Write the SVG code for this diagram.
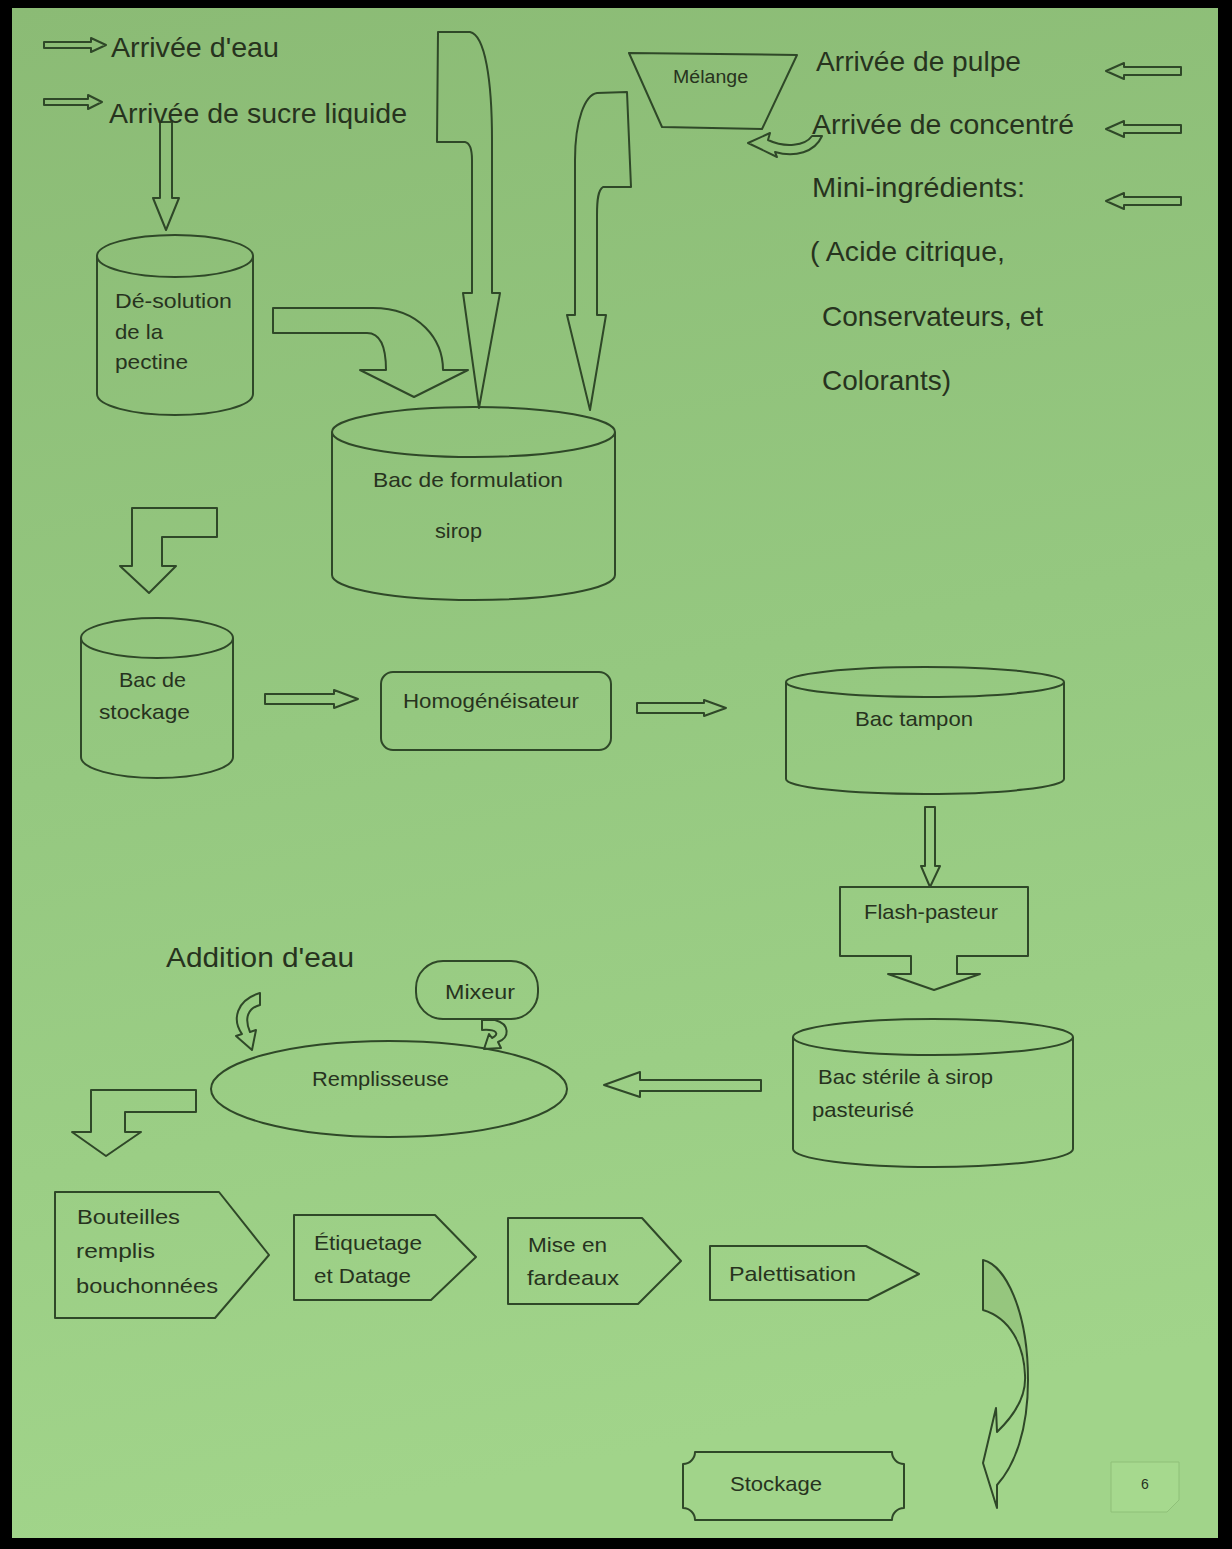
<svg xmlns="http://www.w3.org/2000/svg" width="1232" height="1549" viewBox="0 0 1232 1549">
<defs>
<linearGradient id="bg" x1="0" y1="0" x2="0.15" y2="1">
<stop offset="0" stop-color="#8bbb75"/>
<stop offset="0.5" stop-color="#95c880"/>
<stop offset="1" stop-color="#a1d48a"/>
</linearGradient>
<style>
.s{fill:none;stroke:#2f4828;stroke-width:2;stroke-linejoin:round}
.t{font-family:"Liberation Sans",Arial,sans-serif;fill:#27331e}
.lg{font-size:28px}
.md{font-size:21px}
.sm{font-size:18px}
</style>
</defs>
<rect x="0" y="0" width="1232" height="1549" fill="#000"/>
<rect x="12" y="8" width="1206" height="1530" fill="url(#bg)"/>

<g id="connectors">
<path class="s" d="M44,42 L91,42 L91,38 L106,45 L91,52 L91,48 L44,48 Z"/>
<path class="s" d="M44,99 L88,99 L88,95 L102,102 L88,109 L88,105 L44,105 Z"/>
<path class="s" d="M1181,67 L1124,67 L1124,63 L1106,71 L1124,79 L1124,75 L1181,75 Z"/>
<path class="s" d="M1181,125 L1124,125 L1124,121 L1106,129 L1124,137 L1124,133 L1181,133 Z"/>
<path class="s" d="M1181,197 L1124,197 L1124,193 L1106,201 L1124,209 L1124,205 L1181,205 Z"/>
<path class="s" d="M160,122 L172,122 L172,198 L179,198 L166,230 L153,198 L160,198 Z"/>
<path class="s" d="M438,32 L470,32 C485,35 492,80 492,140 L492,293 L500,293 L479,408 L463,293 L472,293 L472,160 C472,150 470,143 465,142 L437,142 Z"/>
<path class="s" d="M597,93 L627,92 L631,187 L603,187 C598,190 597,200 597,215 L597,315 L606,315 L590,410 L567,315 L575,315 L575,160 C575,120 585,95 597,93 Z"/>
<path class="s" d="M273,308 L373,308 C420,308 443,340 443,370 L468,370 L414,397 L360,370 L386,370 C386,345 380,333 367,333 L273,333 Z"/>
<path class="s" d="M748,143 L770,133 L768,140 C785,148 805,146 812,136 L822,136 C815,152 795,158 775,152 L777,157 Z"/>
<path class="s" d="M132,508 L217,508 L217,537 L162,537 L162,566 L176,566 L149,593 L120,566 L132,566 Z"/>
<path class="s" d="M265,694 L334,694 L334,690 L358,699 L334,708 L334,704 L265,704 Z"/>
<path class="s" d="M637,703 L704,703 L704,700 L726,708 L704,716 L704,713 L637,713 Z"/>
<path class="s" d="M925,807 L935,807 L935,866 L940,866 L930,887 L921,866 L925,866 Z"/>
<path class="s" d="M761,1080 L640,1080 L640,1072 L604,1085 L640,1097 L640,1091 L761,1091 Z"/>
<path class="s" d="M260,993 L260,1005 C248,1008 244,1018 250,1032 L256,1030 L252,1050 L236,1036 L242,1034 C232,1020 236,1000 260,993 Z"/>
<path class="s" d="M482,1020 L495,1020 C510,1024 510,1038 498,1042 L501,1048 L484,1049 L489,1034 L492,1038 C500,1034 497,1029 482,1030 Z"/>
<path class="s" d="M91,1090 L196,1090 L196,1112 L125,1112 L125,1132 L141,1132 L106,1156 L72,1132 L91,1132 Z"/>
<path d="M983,1260 C1005,1265 1026,1310 1027,1372 C1022,1340 1008,1318 983,1310 Z" fill="#86b46f" opacity="0.4"/>
<path class="s" d="M983,1260 C1005,1265 1028,1310 1028,1380 C1028,1430 1015,1465 997,1485 L997,1508 L983,1463 L996,1408 L997,1432 C1020,1410 1026,1390 1025,1375 C1024,1345 1010,1318 983,1310 Z"/>
</g>

<g id="arrivee-eau"><text class="t lg" x="111" y="57" textLength="168" lengthAdjust="spacingAndGlyphs">Arrivée d'eau</text></g>
<g id="arrivee-sucre"><text class="t lg" x="109" y="123" textLength="298" lengthAdjust="spacingAndGlyphs">Arrivée de sucre liquide</text></g>
<g id="arrivee-pulpe"><text class="t lg" x="816" y="71" textLength="205" lengthAdjust="spacingAndGlyphs">Arrivée de pulpe</text></g>
<g id="arrivee-concentre"><text class="t lg" x="812" y="134" textLength="262" lengthAdjust="spacingAndGlyphs">Arrivée de concentré</text></g>
<g id="mini-ingredients">
<text class="t lg" x="812" y="197" textLength="213" lengthAdjust="spacingAndGlyphs">Mini-ingrédients:</text>
<text class="t lg" x="810" y="261" textLength="195" lengthAdjust="spacingAndGlyphs">( Acide citrique,</text>
<text class="t lg" x="822" y="326" textLength="221" lengthAdjust="spacingAndGlyphs">Conservateurs, et</text>
<text class="t lg" x="822" y="390" textLength="129" lengthAdjust="spacingAndGlyphs">Colorants)</text>
</g>

<g id="melange">
<path class="s" d="M629,53 L797,55 L762,129 L662,127 Z"/>
<text class="t sm" x="673" y="83" textLength="75" lengthAdjust="spacingAndGlyphs">Mélange</text>
</g>

<g id="desolution">
<path class="s" d="M97,256 L97,394 A78,21 0 0 0 253,394 L253,256"/>
<ellipse class="s" cx="175" cy="256" rx="78" ry="21"/>
<text class="t md" x="115" y="308" textLength="117" lengthAdjust="spacingAndGlyphs">Dé-solution</text>
<text class="t md" x="115" y="339" textLength="48" lengthAdjust="spacingAndGlyphs">de la</text>
<text class="t md" x="115" y="369" textLength="73" lengthAdjust="spacingAndGlyphs">pectine</text>
</g>

<g id="formulation">
<path class="s" d="M332,432 L332,575 A141.5,25 0 0 0 615,575 L615,432"/>
<ellipse class="s" cx="473.5" cy="432" rx="141.5" ry="25"/>
<text class="t md" x="373" y="487" textLength="190" lengthAdjust="spacingAndGlyphs">Bac de formulation</text>
<text class="t md" x="435" y="538" textLength="47" lengthAdjust="spacingAndGlyphs">sirop</text>
</g>

<g id="stockage-bac">
<path class="s" d="M81,638 L81,757 A76,21 0 0 0 233,757 L233,638"/>
<ellipse class="s" cx="157" cy="638" rx="76" ry="20"/>
<text class="t md" x="119" y="687" textLength="67" lengthAdjust="spacingAndGlyphs">Bac de</text>
<text class="t md" x="99" y="719" textLength="91" lengthAdjust="spacingAndGlyphs">stockage</text>
</g>

<g id="homogeneisateur">
<rect class="s" x="381" y="672" width="230" height="78" rx="12"/>
<text class="t md" x="403" y="708" textLength="176" lengthAdjust="spacingAndGlyphs">Homogénéisateur</text>
</g>

<g id="tampon">
<path class="s" d="M786,682 L786,779 A139,15 0 0 0 1064,779 L1064,682"/>
<ellipse class="s" cx="925" cy="682" rx="139" ry="15"/>
<text class="t md" x="855" y="726" textLength="118" lengthAdjust="spacingAndGlyphs">Bac tampon</text>
</g>

<g id="flash-pasteur">
<path class="s" d="M840,887 L1028,887 L1028,956 L957,956 L957,974 L980,974 L934,990 L888,974 L911,974 L911,956 L840,956 Z"/>
<text class="t md" x="864" y="919" textLength="134" lengthAdjust="spacingAndGlyphs">Flash-pasteur</text>
</g>

<g id="sterile">
<path class="s" d="M793,1037 L793,1149 A140,18 0 0 0 1073,1149 L1073,1037"/>
<ellipse class="s" cx="933" cy="1037" rx="140" ry="18"/>
<text class="t md" x="818" y="1084" textLength="175" lengthAdjust="spacingAndGlyphs">Bac stérile à sirop</text>
<text class="t md" x="812" y="1117" textLength="102" lengthAdjust="spacingAndGlyphs">pasteurisé</text>
</g>

<g id="addition-eau"><text class="t lg" x="166" y="967" textLength="188" lengthAdjust="spacingAndGlyphs">Addition d'eau</text></g>

<g id="mixeur">
<rect class="s" x="416" y="961" width="122" height="58" rx="27"/>
<text class="t md" x="445" y="999" textLength="70" lengthAdjust="spacingAndGlyphs">Mixeur</text>
</g>

<g id="remplisseuse">
<ellipse class="s" cx="389" cy="1089" rx="178" ry="48"/>
<text class="t md" x="312" y="1086" textLength="137" lengthAdjust="spacingAndGlyphs">Remplisseuse</text>
</g>

<g id="bouteilles">
<path class="s" d="M55,1192 L219,1192 L269,1255 L215,1318 L55,1318 Z"/>
<text class="t md" x="77" y="1224" textLength="103" lengthAdjust="spacingAndGlyphs">Bouteilles</text>
<text class="t md" x="76" y="1258" textLength="79" lengthAdjust="spacingAndGlyphs">remplis</text>
<text class="t md" x="76" y="1293" textLength="142" lengthAdjust="spacingAndGlyphs">bouchonnées</text>
</g>

<g id="etiquetage">
<path class="s" d="M294,1215 L435,1215 L476,1257 L431,1300 L294,1300 Z"/>
<text class="t md" x="314" y="1250" textLength="108" lengthAdjust="spacingAndGlyphs">Étiquetage</text>
<text class="t md" x="314" y="1283" textLength="97" lengthAdjust="spacingAndGlyphs">et Datage</text>
</g>

<g id="mise-en-fardeaux">
<path class="s" d="M508,1218 L642,1218 L681,1261 L638,1304 L508,1304 Z"/>
<text class="t md" x="528" y="1252" textLength="79" lengthAdjust="spacingAndGlyphs">Mise en</text>
<text class="t md" x="527" y="1285" textLength="92" lengthAdjust="spacingAndGlyphs">fardeaux</text>
</g>

<g id="palettisation">
<path class="s" d="M710,1246 L866,1246 L919,1274 L868,1300 L710,1300 Z"/>
<text class="t md" x="729" y="1281" textLength="127" lengthAdjust="spacingAndGlyphs">Palettisation</text>
</g>

<g id="stockage">
<path class="s" d="M695,1452 L892,1452 A12,12 0 0 0 904,1464 L904,1508 A12,12 0 0 0 892,1520 L695,1520 A12,12 0 0 0 683,1508 L683,1464 A12,12 0 0 0 695,1452 Z"/>
<text class="t md" x="730" y="1491" textLength="92" lengthAdjust="spacingAndGlyphs">Stockage</text>
</g>

<g id="page-number">
<path d="M1111,1462 L1179,1462 L1179,1500 L1167,1512 L1111,1512 Z" fill="#a6d98e" stroke="#8fc078" stroke-width="1"/>
<text class="t" x="1145" y="1489" font-size="14" text-anchor="middle" fill="#3c4a35">6</text>
</g>
</svg>
